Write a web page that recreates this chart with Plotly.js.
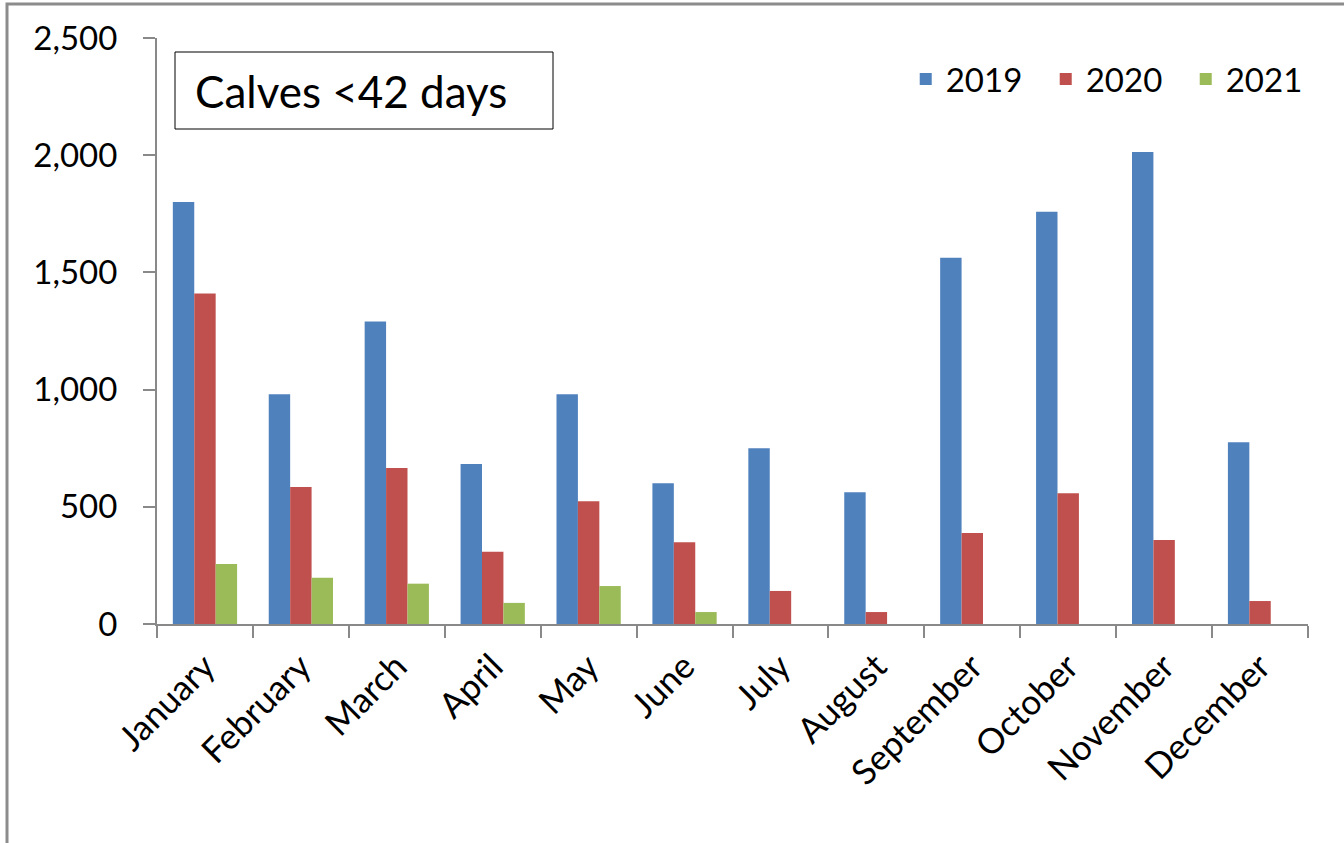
<!DOCTYPE html>
<html>
<head>
<meta charset="utf-8">
<script src="https://cdn.plot.ly/plotly-3.0.1.min.js"></script>
<style>
  html, body { margin: 0; padding: 0; background: #ffffff; }
  #chart { width: 1344px; height: 843px; }
</style>
</head>
<body>
<div id="chart"></div>
<script>
const months = ["January", "February", "March", "April", "May", "June", "July", "August", "September", "October", "November", "December"];
const series2019 = [1800, 980, 1290, 683, 980, 600, 750, 562, 1563, 1759, 2014, 775];
const series2020 = [1410, 585, 665, 308, 524, 349, 141, 51, 388, 558, 358, 98];
const series2021 = [256, 197, 172, 90, 162, 51, null, null, null, null, null, null];
const seriesNames = ["2019", "2020", "2021"];
const seriesColors = ["#4F81BD", "#C0504D", "#9BBB59"];
const yTicks = [0, 500, 1000, 1500, 2000, 2500];
const chartTitle = "Calves <42 days";

const FONT = "Lato, 'Open Sans', sans-serif";
const allSeries = [series2019, series2020, series2021];

const traces = allSeries.map((vals, i) => ({
  type: "bar",
  name: seriesNames[i],
  x: months,
  y: vals,
  marker: { color: seriesColors[i], line: { width: 0 } },
  hoverinfo: "x+y+name"
}));

const axisGray = "#898989";

const layout = {
  width: 1344,
  height: 843,
  margin: { l: 157, r: 36, t: 38, b: 219, autoexpand: false },
  paper_bgcolor: "#ffffff",
  plot_bgcolor: "#ffffff",
  font: { family: FONT, color: "#000000", size: 33 },
  bargap: 0.33,
  bargroupgap: 0,
  barmode: "group",
  showlegend: true,
  legend: {
    orientation: "h",
    x: 0.6505,
    xanchor: "left",
    y: 0.93,
    yanchor: "middle",
    font: { family: FONT, size: 33, color: "#000000" },
    bgcolor: "rgba(0,0,0,0)",
    entrywidth: 95,
    entrywidthmode: "pixels",
    itemwidth: 30,
    traceorder: "normal"
  },
  xaxis: {
    type: "category",
    categoryarray: months,
    tickangle: -45,
    tickson: "boundaries",
    ticks: "outside",
    ticklen: 12,
    tickwidth: 2,
    tickcolor: axisGray,
    showline: true,
    linecolor: axisGray,
    linewidth: 2,
    showgrid: false,
    zeroline: false,
    automargin: false,
    ticklabelstandoff: 6,
    tickfont: { family: FONT, size: 35, color: "#000000" },
    fixedrange: true
  },
  yaxis: {
    range: [0, 2500],
    tickvals: yTicks,
    tickformat: ",d",
    ticks: "outside",
    ticklen: 12,
    tickwidth: 2,
    tickcolor: axisGray,
    showline: true,
    linecolor: axisGray,
    linewidth: 2,
    showgrid: false,
    zeroline: false,
    automargin: false,
    ticklabelstandoff: 19,
    tickfont: { family: FONT, size: 33, color: "#000000" },
    fixedrange: true
  },
  shapes: [
    {
      type: "rect", xref: "paper", yref: "paper",
      x0: (7 - 157) / 1151, x1: 1.2,
      y0: -0.6, y1: (624 - 4) / 586,
      line: { color: "#8c8c8c", width: 3 },
      fillcolor: "rgba(0,0,0,0)",
      layer: "below"
    },
    {
      type: "rect", xref: "paper", yref: "paper",
      x0: (175 - 157) / 1151, x1: (553 - 157) / 1151,
      y0: (624 - 129) / 586, y1: (624 - 52) / 586,
      line: { color: "#000000", width: 1 },
      fillcolor: "#ffffff",
      layer: "above"
    }
  ],
  annotations: [
    {
      text: chartTitle,
      xref: "paper", yref: "paper",
      x: (193 - 157) / 1151, xanchor: "left",
      y: (624 - 91) / 586, yanchor: "middle",
      showarrow: false,
      font: { family: FONT, size: 44, color: "#000000" }
    }
  ]
};

Plotly.newPlot("chart", traces, layout, { displayModeBar: false, staticPlot: true });
</script>
</body>
</html>
